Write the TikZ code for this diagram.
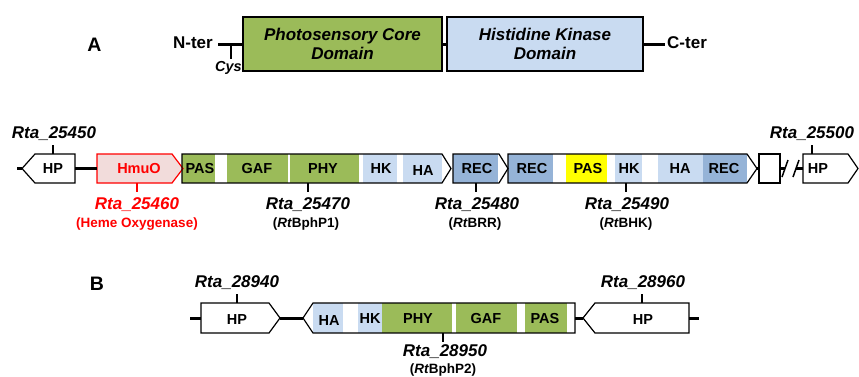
\documentclass[tikz,border=0pt]{standalone}
\usepackage{fontspec}
\setmainfont{Liberation Sans}
\definecolor{pgreen}{HTML}{9BBB59}
\definecolor{lblue}{HTML}{C9DBF1}
\definecolor{dblue}{HTML}{95B3D7}
\definecolor{pinkf}{HTML}{F2DCDB}
\definecolor{redc}{HTML}{FF0000}
\definecolor{yel}{HTML}{FFFF00}
\begin{document}
\begin{tikzpicture}[x=1pt,y=-1pt,
  box/.style={draw=black,line width=1.2pt,line join=miter},
  conn/.style={line width=3pt},
  tickl/.style={line width=1.8pt},
  dom/.style={font=\fontsize{14.5}{16}\selectfont\bfseries,inner sep=0pt,anchor=base},
  gene/.style={font=\fontsize{17}{19}\selectfont\bfseries\itshape,inner sep=0pt,anchor=base},
  sub/.style={font=\fontsize{13.5}{15}\selectfont\bfseries,inner sep=0pt,anchor=base},
  term/.style={font=\fontsize{17}{19}\selectfont\bfseries,inner sep=0pt},
  bigbox/.style={draw=black,line width=1.3pt,minimum height=54pt,inner sep=0pt,align=center,
    font=\fontsize{17}{19.5}\selectfont\bfseries\itshape},
  panel/.style={font=\fontsize{19.5}{21}\selectfont\bfseries,inner sep=0pt}
]
\useasboundingbox (0,0) rectangle (859,376);

% ---------------- Panel A, top ----------------
\node[panel] (labA) at (94.5,45) {A};
\node[bigbox,fill=pgreen,minimum width=199pt] (pcd) at (342.5,44) {Photosensory Core\\Domain};
\node[bigbox,fill=lblue,minimum width=196pt] (hkd) at (545,44) {Histidine Kinase\\Domain};
\draw[conn] (pcd.east) -- (hkd.west);
\node[term,anchor=east] (nter) at (213,43) {N-ter};
\coordinate (nline) at (218,44);
\draw[conn] (nline) -- (pcd.west);
\coordinate (cysT) at (231,44);
\coordinate (cysB) at (231,59);
\draw[line width=2.5pt] (cysT) -- (cysB);
\node[font=\fontsize{14.5}{16}\selectfont\bfseries\itshape,inner sep=0pt] (cys) at (228.5,68) {Cys};
\coordinate (cline) at (665,44);
\draw[conn] (hkd.east) -- (cline);
\node[term,anchor=west] (cter) at (667,43) {C-ter};

% ---------------- Panel A, gene row ----------------
\fill[pgreen] (182,154) rectangle (215,183);
\fill[pgreen] (227,154) rectangle (288,183);
\fill[pgreen] (289.5,154) rectangle (359,183);
\fill[lblue] (363,154) rectangle (397,183);
\fill[lblue] (403,154) rectangle (442,183);
\fill[dblue] (453,154) rectangle (498,183);
\fill[dblue] (508,154) rectangle (553,183);
\fill[yel] (566,154) rectangle (607,183);
\fill[lblue] (615,154) rectangle (642,183);
\fill[lblue] (658,154) rectangle (703,183);
\fill[dblue] (703,154) rectangle (747,183);

\draw[box] (22,168.5) -- (35,154) -- (75,154) -- (75,183) -- (35,183) -- cycle;
\draw[box,draw=redc,fill=pinkf] (97,154) -- (172,154) -- (183,168.5) -- (172,183) -- (97,183) -- cycle;
\draw[box] (182,154) -- (442,154) -- (451,168.5) -- (442,183) -- (182,183) -- cycle;
\draw[box] (453,154) -- (499,154) -- (508,168.5) -- (499,183) -- (453,183) -- cycle;
\draw[box] (508,154) -- (747,154) -- (757,168.5) -- (747,183) -- (508,183) -- cycle;
\draw[box] (759,154) rectangle (780,183);
\draw[box] (803,154) -- (848,154) -- (858,168.5) -- (848,183) -- (803,183) -- cycle;

\coordinate (aStub) at (17,168.5);
\coordinate (hpAtip) at (22,168.5);
\coordinate (hpAr) at (75,168.5);
\coordinate (hmuoL) at (97,168.5);
\coordinate (b3tip) at (757,168.5);
\coordinate (smL) at (759,168.5);
\coordinate (smR) at (780,168.5);
\coordinate (brk1) at (785,168.5);
\coordinate (brk2) at (796,168.5);
\coordinate (hpRl) at (803,168.5);
\draw[conn] (aStub) -- (hpAtip);
\draw[conn] (hpAr) -- (hmuoL);
\draw[conn] (b3tip) -- (smL);
\draw[conn] (smR) -- (brk1);
\draw[conn] (brk2) -- (hpRl);
\draw[line width=1.5pt] (782,177) -- (788,160);
\draw[line width=1.5pt] (793,177) -- (799,160);

% domain labels row A
\node[dom] (tHPa) at (53,173.7) {HP};
\node[dom,text=redc] (tHmuO) at (139,173.7) {HmuO};
\node[dom] (tPAS1) at (200,173.7) {PAS};
\node[dom] (tGAF1) at (257,173.7) {GAF};
\node[dom] (tPHY1) at (323,173.7) {PHY};
\node[dom] (tHK1) at (381,173.7) {HK};
\node[dom] (tHA1) at (423,175.5) {HA};
\node[dom] (tREC1) at (477,173.7) {REC};
\node[dom] (tREC2) at (532,173.7) {REC};
\node[dom] (tPAS2) at (588,173.7) {PAS};
\node[dom] (tHK2) at (629,173.7) {HK};
\node[dom] (tHA2) at (680,173.7) {HA};
\node[dom] (tREC3) at (724,173.7) {REC};
\node[dom] (tHPr) at (818,173.7) {HP};

% ticks row A
\coordinate (k1a) at (53,145);   \coordinate (k1b) at (53,154);
\coordinate (k6a) at (812,145);  \coordinate (k6b) at (812,154);
\coordinate (k2a) at (137,183);  \coordinate (k2b) at (137,192);
\coordinate (k3a) at (308,183);  \coordinate (k3b) at (308,192);
\coordinate (k4a) at (476,183);  \coordinate (k4b) at (476,192);
\coordinate (k5a) at (626,183);  \coordinate (k5b) at (626,192);
\draw[tickl] (k1a) -- (k1b);
\draw[tickl] (k6a) -- (k6b);
\draw[tickl,redc] (k2a) -- (k2b);
\draw[tickl] (k3a) -- (k3b);
\draw[tickl] (k4a) -- (k4b);
\draw[tickl] (k5a) -- (k5b);

% gene labels row A
\node[gene] (g1) at (54,138.6) {Rta\_25450};
\node[gene] (g6) at (812,138.6) {Rta\_25500};
\node[gene,text=redc] (g2) at (137,209) {Rta\_25460};
\node[sub,text=redc] (s2) at (137,227) {(Heme Oxygenase)};
\node[gene] (g3) at (308,209) {Rta\_25470};
\node[sub] (s3) at (306,227) {(\textit{Rt}BphP1)};
\node[gene] (g4) at (477,209) {Rta\_25480};
\node[sub] (s4) at (475,227) {(\textit{Rt}BRR)};
\node[gene] (g5) at (627,209) {Rta\_25490};
\node[sub] (s5) at (626,227) {(\textit{Rt}BHK)};

% ---------------- Panel B ----------------
\node[panel] (labB) at (97,284) {B};
\fill[lblue] (313,303) rectangle (343,333);
\fill[lblue] (358,303) rectangle (382,333);
\fill[pgreen] (382,303) rectangle (452,333);
\fill[pgreen] (456,303) rectangle (517,333);
\fill[pgreen] (525,303) rectangle (567,333);

\draw[box] (201,303) -- (269,303) -- (280,318) -- (269,333) -- (201,333) -- cycle;
\draw[box] (303,318) -- (313,303) -- (575,303) -- (575,333) -- (313,333) -- cycle;
\draw[box] (583,318) -- (595,303) -- (689,303) -- (689,333) -- (595,333) -- cycle;

\coordinate (bStubL) at (190,318);
\coordinate (hpBLl) at (201,318);
\coordinate (hpBLtip) at (280,318);
\coordinate (bigBtip) at (303,318);
\coordinate (bigBr) at (575,318);
\coordinate (hpBRtip) at (583,318);
\coordinate (hpBRr) at (689,318);
\coordinate (bStubR) at (699,318);
\draw[conn] (bStubL) -- (hpBLl);
\draw[conn] (hpBLtip) -- (bigBtip);
\draw[conn] (bigBr) -- (hpBRtip);
\draw[conn] (hpBRr) -- (bStubR);

\node[dom] (tHPb1) at (237,324.5) {HP};
\node[dom] (tHAb) at (329,325.5) {HA};
\node[dom] (tHKb) at (370,323.7) {HK};
\node[dom] (tPHYb) at (418,323.7) {PHY};
\node[dom] (tGAFb) at (486,323.7) {GAF};
\node[dom] (tPASb) at (545,323.7) {PAS};
\node[dom] (tHPb2) at (643,324.5) {HP};

\coordinate (m1a) at (237,294); \coordinate (m1b) at (237,303);
\coordinate (m2a) at (642,294); \coordinate (m2b) at (642,303);
\coordinate (m3a) at (443,333); \coordinate (m3b) at (443,342);
\draw[tickl] (m1a) -- (m1b);
\draw[tickl] (m2a) -- (m2b);
\draw[tickl] (m3a) -- (m3b);

\node[gene] (h1) at (237,287.6) {Rta\_28940};
\node[gene] (h2) at (643,287.6) {Rta\_28960};
\node[gene] (h3) at (445,356) {Rta\_28950};
\node[sub] (h4) at (443,373.5) {(\textit{Rt}BphP2)};
\end{tikzpicture}
\end{document}
